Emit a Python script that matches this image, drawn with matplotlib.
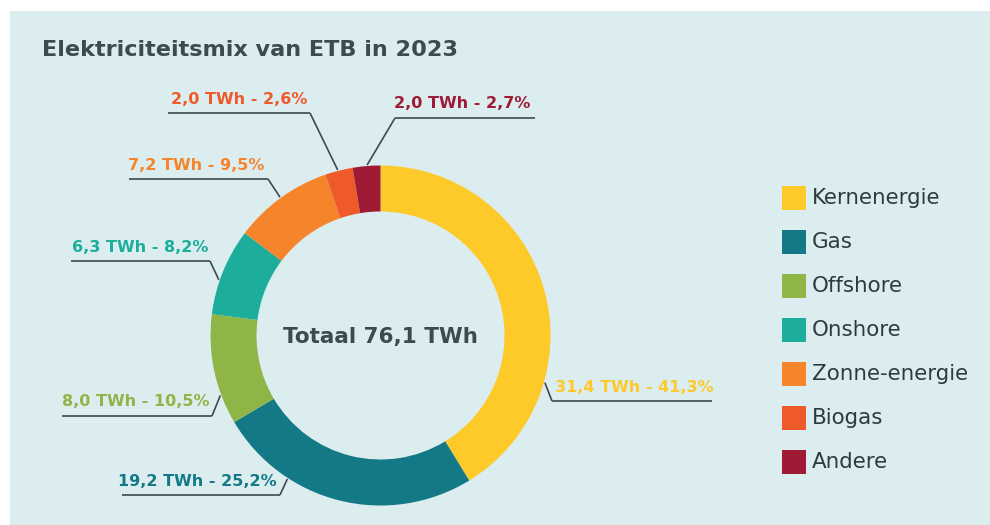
import matplotlib.pyplot as plt
from matplotlib.patches import Rectangle
import numpy as np

# ---- data ----
categories = ['Kernenergie', 'Gas', 'Offshore', 'Onshore', 'Zonne-energie', 'Biogas', 'Andere']
twh = [31.4, 19.2, 8.0, 6.3, 7.2, 2.0, 2.0]
pct = [41.3, 25.2, 10.5, 8.2, 9.5, 2.6, 2.7]
colors = ['#fdca2a', '#137987', '#8fb547', '#1cae9b', '#f5842a', '#ef5a2b', '#9f1a35']
title = 'Elektriciteitsmix van ETB in 2023'
total_label = 'Totaal 76,1 TWh'

# ---- layout (pixels, y measured from top) ----
W, H = 990, 525
BG = '#dcedf0'
DARK = '#3d4a50'
cx, cy, R, RING = 380.5, 335.5, 170, 46
FONT = 'DejaVu Sans'

# label layout: (text x, text y, ha, underline x0, underline x1, underline y, elbow x, attach angle)
label_layout = [
    (555, 387, 'left', 552, 712, 401, 552, -16),
    (277, 482, 'right', 122, 280, 495, 280, -123),
    (210, 402, 'right', 62, 212, 416, 212, 200.5),
    (208, 247, 'right', 71, 210, 261, 210, 161),
    (264, 165, 'right', 129, 268, 179, 268, 126),
    (307, 100, 'right', 168, 310, 113, 310, 104.5),
    (394, 103, 'left', 395, 535, 118, 395, 94.5),
]


def fmt(v):
    return f'{v:.1f}'.replace('.', ',')


fig = plt.figure(figsize=(W / 100, H / 100), dpi=100)
fig.patch.set_facecolor('white')
ax = fig.add_axes([0, 0, 1, 1])

# panel background
ax.add_patch(Rectangle((10, 0), W - 10, H - 11, facecolor=BG, edgecolor='none', zorder=0))

ax.pie(twh, colors=colors, startangle=90, counterclock=False,
       radius=R, center=(cx, H - cy),
       wedgeprops=dict(width=RING, linewidth=0))

ax.set_xlim(0, W)
ax.set_ylim(0, H)
ax.set_aspect('equal')
ax.axis('off')

ax.text(42, H - 50, title, fontsize=16.1, fontweight='bold', color=DARK,
        family=FONT, va='center', ha='left')
ax.text(cx, H - 337, total_label, fontsize=15.5, fontweight='bold', color=DARK,
        family=FONT, va='center', ha='center')

for i, (tx, ty, ha, u0, u1, uy, ex, ang) in enumerate(label_layout):
    a = np.deg2rad(ang)
    px = cx + (R + 1) * np.cos(a)
    py = (H - cy) + (R + 1) * np.sin(a)
    ax.plot([u0, u1], [H - uy, H - uy], color=DARK, lw=1.2, solid_capstyle='butt')
    ax.plot([ex, px], [H - uy, py], color=DARK, lw=1.2, solid_capstyle='butt')
    ax.text(tx, H - ty, f'{fmt(twh[i])} TWh - {fmt(pct[i])}%', fontsize=11.5,
            fontweight='bold', color=colors[i], family=FONT, va='center', ha=ha)

# legend
for i, name in enumerate(categories):
    yc = 198 + 44 * i
    ax.add_patch(Rectangle((782, H - yc - 12), 24, 24, facecolor=colors[i], edgecolor='none'))
    ax.text(812, H - yc, name, fontsize=15.4, color='#2d3a3e', family=FONT,
            va='center', ha='left')

fig.savefig('out.png', dpi=100)
